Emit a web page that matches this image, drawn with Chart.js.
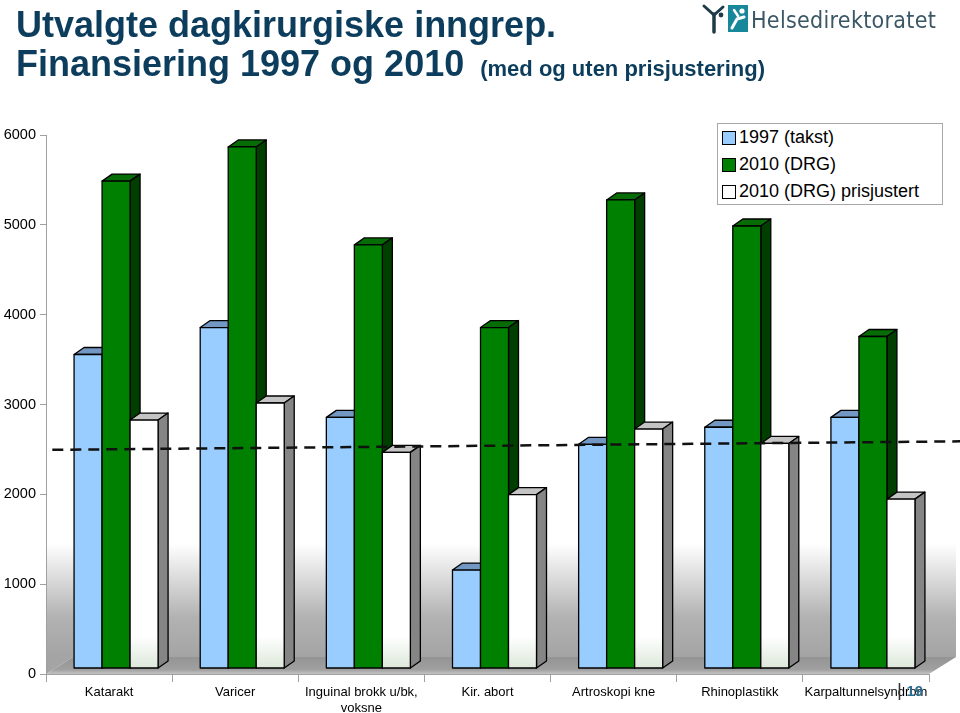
<!DOCTYPE html>
<html>
<head>
<meta charset="utf-8">
<script src="https://cdn.jsdelivr.net/npm/chart.js@4.4.1/dist/chart.umd.min.js"></script>
<style>
  body { margin: 0; background: #fff; font-family: 'Liberation Sans', Arial, sans-serif; }
  #wrap { position: relative; width: 960px; height: 713px; overflow: hidden; }
  #chart { position: absolute; left: 0; top: 0; }
  .title { position: absolute; left: 16px; color: #0c3d5c; font-weight: bold; font-size: 36px; line-height: 40px; white-space: nowrap; }
  .title small { font-size: 22px; margin-left: 6px; }
  #logoText { position: absolute; left: 751px; top: 9px; font-family: 'DejaVu Sans Condensed', 'DejaVu Sans', sans-serif; font-size: 23px; letter-spacing: 0.3px; line-height: 22px; color: #3b5766; white-space: nowrap; }
  #logo { position: absolute; left: 701px; top: 3px; }
  #legend { position: absolute; left: 717px; top: 123px; width: 224px; height: 80px; border: 1px solid #a8a8a8; background: #fff; }
  .item { position: absolute; left: 4px; height: 27px; display: flex; align-items: center; font-size: 18px; color: #000; white-space: nowrap; }
  .sw { width: 12px; height: 12px; border: 1px solid #000; margin-right: 3px; box-sizing: content-box; }
  #page { position: absolute; left: 897px; top: 679px; white-space: nowrap; }
  #page .bar { font-size: 19px; color: #333; }
  #page .num { font-size: 15px; font-weight: bold; color: #2b6d8f; }
</style>
</head>
<body>
<div id="wrap">
  <canvas id="chart" width="960" height="713"></canvas>
  <div class="title" style="top:5px">Utvalgte dagkirurgiske inngrep.</div>
  <div class="title" style="top:44px">Finansiering 1997 og 2010 <small>(med og uten prisjustering)</small></div>
  <svg id="logo" width="50" height="32" viewBox="0 0 50 32">
    <path d="M3 3 L13 12 L22 4" stroke="#1f3a48" stroke-width="3" fill="none" stroke-linecap="round"/>
    <path d="M13 11 L13 29" stroke="#1f3a48" stroke-width="3.5" stroke-linecap="round"/>
    <circle cx="20" cy="12" r="2.4" fill="#1f3a48"/>
    <rect x="27" y="2" width="20" height="27" fill="#17879a"/>
    <circle cx="41" cy="8" r="2.6" fill="#fff"/>
    <path d="M31 25 L36 16 L43 14" stroke="#fff" stroke-width="3" fill="none" stroke-linecap="round"/>
    <path d="M33 7 L37 13" stroke="#fff" stroke-width="2.5" stroke-linecap="round"/>
  </svg>
  <div id="logoText">Helsedirektoratet</div>
  <div id="legend"></div>
  <div id="page"><span class="bar">|</span> <span class="num">19</span></div>
</div>
<script>
const categories = ['Katarakt', 'Varicer', ['Inguinal brokk u/bk,', 'voksne'], 'Kir. abort', 'Artroskopi kne', 'Rhinoplastikk', 'Karpaltunnelsyndrom'];
const seriesNames = ['1997 (takst)', '2010 (DRG)', '2010 (DRG) prisjustert'];
const takst1997 = [3490, 3790, 2790, 1090, 2490, 2680, 2790];
const drg2010 = [5420, 5800, 4710, 3790, 5210, 4920, 3690];
const drg2010Adj = [2760, 2950, 2400, 1930, 2660, 2500, 1880];
const yTicks = [0, 1000, 2000, 3000, 4000, 5000, 6000];
// dashed reference line, two end points (x in category units)
const refLine = [{ x: 0.05, y: 2495 }, { x: 7.25, y: 2590 }];

const barStyles = [
  { front: '#99ccff', top: '#7297c2', side: '#5b7fa8' },
  { front: '#008000', top: '#066d06', side: '#003f00' },
  { front: '#ffffff', top: '#c4c4c4', side: '#858585', shine: '#dde8da' }
];
const AXIS_GRAY = '#a0a0a0';
const GROUP_FRAC = 0.666;
const DX = 10, DY = 7;        // bar depth
const SHIFT_X = 7, SHIFT_Y = -6; // bars sit mid-depth on the floor
const FLOOR_X = 27, FLOOR_Y = 17;

// legend
const legend = document.getElementById('legend');
seriesNames.forEach((name, i) => {
  const item = document.createElement('div');
  item.className = 'item';
  item.style.top = (i * 27) + 'px';
  item.innerHTML = `<span class="sw" style="background:${barStyles[i].front}"></span>${name}`;
  legend.appendChild(item);
});

function poly(ctx, pts, fill) {
  ctx.beginPath();
  ctx.moveTo(pts[0][0], pts[0][1]);
  for (let k = 1; k < pts.length; k++) ctx.lineTo(pts[k][0], pts[k][1]);
  ctx.closePath();
  ctx.fillStyle = fill;
  ctx.fill();
  ctx.stroke();
}

const depthPlugin = {
  id: 'depth3d',
  beforeDraw(chart) {
    const { ctx, chartArea: a } = chart;
    const wallTop = chart.scales.y.getPixelForValue(1450);
    ctx.save();
    const g = ctx.createLinearGradient(0, wallTop, 0, a.bottom - FLOOR_Y);
    g.addColorStop(0, 'rgba(255,255,255,1)');
    g.addColorStop(0.65, '#b2b2b2');
    g.addColorStop(1, '#a4a4a4');
    ctx.fillStyle = g;
    ctx.beginPath();
    ctx.moveTo(a.left, a.bottom);
    ctx.lineTo(a.left + FLOOR_X, a.bottom - FLOOR_Y);
    ctx.lineTo(a.right + FLOOR_X, a.bottom - FLOOR_Y);
    ctx.lineTo(a.right + FLOOR_X, wallTop);
    ctx.lineTo(a.left, wallTop);
    ctx.closePath();
    ctx.fill();
    // floor
    const fg = ctx.createLinearGradient(0, a.bottom - FLOOR_Y, 0, a.bottom);
    fg.addColorStop(0, '#949494');
    fg.addColorStop(0.75, '#a0a0a0');
    fg.addColorStop(1, '#c4c4c4');
    ctx.fillStyle = fg;
    ctx.beginPath();
    ctx.moveTo(a.left, a.bottom);
    ctx.lineTo(a.right, a.bottom);
    ctx.lineTo(a.right + FLOOR_X, a.bottom - FLOOR_Y);
    ctx.lineTo(a.left + FLOOR_X, a.bottom - FLOOR_Y);
    ctx.closePath();
    ctx.fill();
    ctx.restore();
  },
  beforeDatasetsDraw(chart) {
    const ctx = chart.ctx;
    const xs = chart.scales.x, ys = chart.scales.y;
    const catW = xs.getPixelForValue(1) - xs.getPixelForValue(0);
    const slot = catW * GROUP_FRAC / 3;
    const base = ys.getPixelForValue(0);
    const bars = chart.data.datasets.filter(d => d.type === 'bar');
    ctx.save();
    ctx.translate(SHIFT_X, SHIFT_Y);
    ctx.lineWidth = 1.3;
    ctx.strokeStyle = '#000';
    ctx.lineJoin = 'round';
    for (let i = 0; i < categories.length; i++) {
      const cx = xs.getPixelForValue(i);
      bars.forEach((ds, j) => {
        const st = barStyles[j];
        const l = cx - 1.5 * slot + j * slot, r = l + slot;
        const t = ys.getPixelForValue(ds.data[i]), b = base;
        poly(ctx, [[l, t], [l + DX, t - DY], [r + DX, t - DY], [r, t]], st.top);
        poly(ctx, [[r, t], [r + DX, t - DY], [r + DX, b - DY], [r, b]], st.side);
        if (st.shine) {
          const sg = ctx.createLinearGradient(0, b - 32, 0, b);
          sg.addColorStop(0, st.front);
          sg.addColorStop(1, st.shine);
          ctx.fillStyle = sg;
        } else {
          ctx.fillStyle = st.front;
        }
        ctx.fillRect(l, t, r - l, b - t);
        ctx.strokeRect(l, t, r - l, b - t);
      });
    }
    ctx.restore();
  },
  beforeDatasetDraw(chart, args) {
    if (args.meta.type === 'bar') return false;
  }
};

Chart.defaults.font.family = "'Liberation Sans', Arial, sans-serif";
Chart.defaults.color = '#000';

new Chart(document.getElementById('chart'), {
  type: 'bar',
  data: {
    labels: categories,
    datasets: [
      { type: 'bar', label: seriesNames[0], data: takst1997, backgroundColor: barStyles[0].front, stack: 's0' },
      { type: 'bar', label: seriesNames[1], data: drg2010, backgroundColor: barStyles[1].front, stack: 's1' },
      { type: 'bar', label: seriesNames[2], data: drg2010Adj, backgroundColor: barStyles[2].front, stack: 's2' },
      {
        type: 'line', label: 'ref', data: refLine, xAxisID: 'xl',
        borderColor: '#111', borderWidth: 2.5, borderDash: [11, 7],
        pointRadius: 0, fill: false, clip: false
      }
    ]
  },
  options: {
    responsive: false,
    animation: false,
    layout: { padding: { top: 135, right: 31, left: 0, bottom: 0 } },
    plugins: { legend: { display: false }, tooltip: { enabled: false } },
    datasets: { bar: { categoryPercentage: GROUP_FRAC, barPercentage: 1.0 } },
    scales: {
      x: {
        type: 'category',
        offset: true,
        grid: { offset: true, drawOnChartArea: false, color: AXIS_GRAY, tickLength: 8 },
        border: { color: AXIS_GRAY },
        ticks: { font: { size: 13 }, padding: 3, autoSkip: false, maxRotation: 0, minRotation: 0 },
        afterFit: s => { s.height = 39; }
      },
      xl: { type: 'linear', display: false, offset: false, grid: { offset: false }, min: 0, max: 7 },
      y: {
        min: 0, max: 6000,
        afterBuildTicks: axis => { axis.ticks = yTicks.map(v => ({ value: v })); },
        grid: { drawOnChartArea: false, color: AXIS_GRAY, tickLength: 6 },
        border: { color: AXIS_GRAY },
        ticks: { font: { size: 14.5 }, padding: 4, callback: v => String(v) },
        afterFit: s => { s.width = 46; }
      }
    }
  },
  plugins: [depthPlugin]
});
</script>
</body>
</html>
